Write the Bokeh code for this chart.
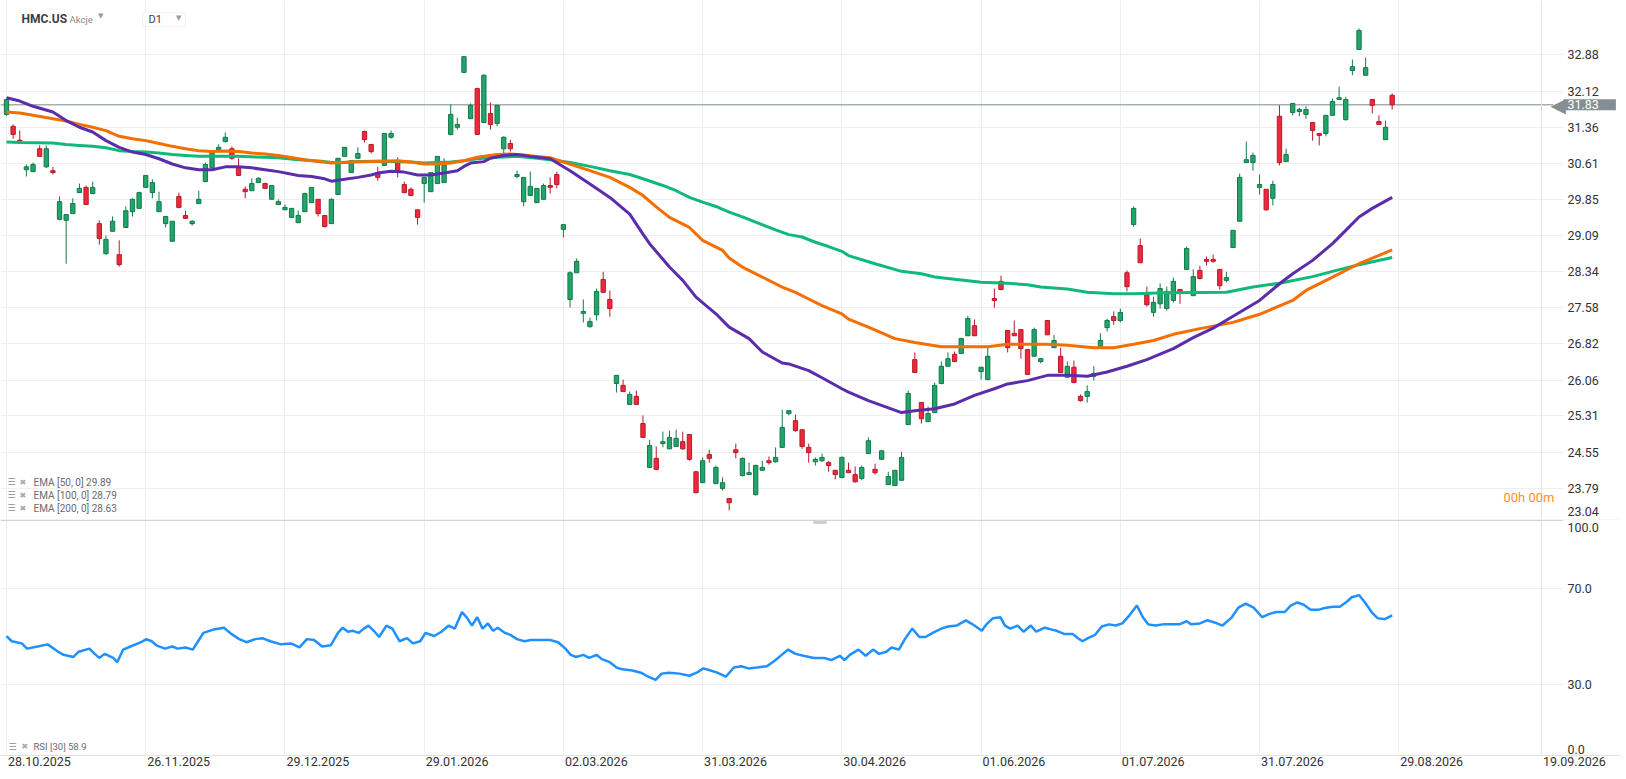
from bokeh.plotting import figure
from bokeh.models import (Range1d, FixedTicker, Label, Span, Grid, ColumnDataSource,
                          BoxAnnotation)
from bokeh.layouts import column
from bokeh.embed import file_html
from bokeh.resources import INLINE

FONT = "Roboto"

# ------------------------------------------------------------------ data
symbol = "HMC.US"
asset_class = "Akcje"
interval = "D1"

opens = [31.63, 31.38, 31.09, 30.47, 30.43, 30.91, 30.53, 30.45, 29.43, 29.41,
         29.55, 29.99, 30.10, 29.97, 29.34, 28.71, 29.18, 28.69, 29.26, 29.59,
         29.66, 30.10, 29.99, 29.59, 29.34, 28.97, 29.91, 29.51, 29.34, 29.76,
         30.22, 30.51, 30.89, 31.06, 30.91, 30.51, 30.06, 30.03, 30.20, 30.18,
         29.85, 29.74, 29.63, 29.47, 29.36, 29.59, 29.78, 29.85, 29.51, 29.34,
         29.95, 30.75, 30.41, 30.71, 31.27, 31.00, 30.41, 30.56, 31.15, 30.62,
         30.16, 30.06, 29.63, 30.18, 30.01, 30.18, 30.20, 31.21, 31.36, 32.51,
         31.54, 32.17, 31.46, 31.65, 31.44, 30.91, 31.02, 30.33, 29.80, 29.93,
         29.78, 29.85, 30.14, 30.37, 29.22, 27.75, 28.31, 27.46, 27.18, 27.43,
         28.17, 27.75, 25.99, 25.95, 25.55, 25.72, 25.15, 24.23, 24.42, 24.73,
         24.62, 24.67, 24.77, 24.92, 24.14, 23.91, 24.50, 23.89, 23.79, 23.58,
         24.60, 24.06, 24.08, 23.66, 24.17, 24.37, 24.35, 24.65, 25.36, 25.21,
         25.02, 24.65, 24.35, 24.37, 24.33, 24.17, 24.02, 24.17, 24.08, 24.00,
         24.52, 24.19, 24.40, 23.87, 23.85, 23.96, 25.13, 26.49, 25.59, 25.19,
         25.38, 25.99, 26.35, 26.60, 26.62, 26.99, 27.20, 26.24, 26.07, 27.77,
         28.13, 27.10, 27.04, 27.12, 26.70, 26.56, 26.45, 27.31, 26.74, 26.56,
         26.12, 26.33, 25.72, 25.72, 26.14, 26.74, 27.16, 27.39, 27.31, 28.31,
         29.32, 28.88, 27.85, 27.48, 27.66, 27.56, 27.73, 27.96, 28.38, 27.83,
         28.36, 28.59, 28.59, 28.38, 28.15, 28.84, 29.39, 30.62, 30.62, 30.10,
         30.06, 29.87, 31.59, 30.64, 31.67, 31.69, 31.63, 31.46, 31.23, 31.23,
         31.61, 31.94, 31.52, 32.55, 32.99, 32.45, 31.94, 31.48, 31.10, 32.03]
highs = [31.96, 31.42, 31.29, 30.58, 30.62, 30.98, 30.98, 30.53, 29.91, 29.53,
         29.87, 30.18, 30.14, 30.22, 29.41, 29.09, 29.49, 28.99, 29.70, 29.87,
         30.01, 30.35, 30.27, 30.01, 29.49, 29.39, 29.99, 29.61, 29.41, 30.03,
         30.62, 30.87, 31.00, 31.25, 30.96, 30.71, 30.12, 30.29, 30.31, 30.20,
         30.14, 29.85, 29.74, 29.66, 29.61, 29.99, 30.10, 29.85, 29.51, 29.87,
         30.71, 30.94, 30.66, 30.94, 31.29, 31.00, 30.53, 31.23, 31.29, 30.73,
         30.22, 30.10, 29.63, 30.31, 30.41, 30.75, 30.71, 31.84, 31.56, 32.84,
         31.86, 32.19, 32.47, 31.88, 31.82, 31.17, 31.10, 30.45, 30.31, 30.43,
         30.08, 30.18, 30.31, 30.43, 29.32, 28.34, 28.61, 27.75, 27.37, 27.98,
         28.33, 27.94, 26.16, 26.07, 25.82, 25.84, 25.32, 24.81, 24.67, 24.98,
         25.00, 25.02, 24.98, 24.92, 24.14, 24.44, 24.60, 24.27, 24.02, 23.58,
         24.73, 24.44, 24.33, 24.29, 24.37, 24.46, 24.65, 25.44, 25.42, 25.34,
         25.02, 24.73, 24.44, 24.52, 24.37, 24.17, 24.46, 24.33, 24.25, 24.27,
         24.86, 24.31, 24.58, 24.14, 24.17, 24.56, 25.84, 26.64, 25.59, 25.51,
         26.01, 26.45, 26.64, 26.66, 26.95, 27.41, 27.33, 26.33, 26.74, 27.98,
         28.25, 27.10, 27.31, 27.12, 26.70, 27.16, 26.51, 27.31, 27.01, 26.74,
         26.45, 26.47, 25.76, 25.95, 26.35, 27.04, 27.35, 27.50, 27.56, 28.36,
         29.70, 29.03, 28.02, 27.81, 28.09, 28.02, 28.21, 27.96, 28.86, 28.38,
         28.46, 28.65, 28.69, 28.38, 28.33, 29.20, 30.39, 31.06, 30.83, 30.37,
         30.06, 30.24, 31.82, 30.91, 31.86, 31.77, 31.80, 31.46, 31.23, 31.61,
         31.96, 32.21, 32.00, 32.78, 33.43, 32.82, 31.94, 31.61, 31.50, 32.07]
lows = [31.60, 31.12, 31.04, 30.33, 30.43, 30.75, 30.51, 30.37, 29.41, 28.50,
        29.55, 29.99, 29.74, 29.97, 28.90, 28.69, 29.18, 28.44, 29.26, 29.49,
        29.66, 30.10, 29.87, 29.59, 29.26, 28.97, 29.66, 29.45, 29.30, 29.76,
        30.22, 30.51, 30.83, 31.04, 30.68, 30.35, 29.87, 30.03, 30.20, 30.08,
        29.85, 29.74, 29.63, 29.47, 29.36, 29.59, 29.78, 29.49, 29.26, 29.34,
        29.95, 30.75, 30.41, 30.71, 31.04, 30.81, 30.24, 30.56, 31.12, 30.31,
        29.99, 29.93, 29.32, 29.78, 30.01, 30.18, 30.20, 31.19, 31.31, 32.51,
        31.54, 31.21, 31.46, 31.31, 31.38, 30.81, 30.85, 30.29, 29.70, 29.93,
        29.78, 29.85, 29.97, 30.08, 29.05, 27.58, 28.31, 27.27, 27.16, 27.31,
        27.90, 27.39, 25.80, 25.82, 25.55, 25.55, 24.86, 24.23, 24.17, 24.65,
        24.62, 24.67, 24.60, 24.37, 23.70, 23.91, 24.33, 23.89, 23.75, 23.33,
        24.42, 24.04, 24.08, 23.64, 24.17, 24.29, 24.33, 24.65, 25.32, 24.98,
        24.62, 24.33, 24.27, 24.35, 24.14, 23.98, 24.00, 24.12, 23.91, 23.96,
        24.52, 24.08, 24.40, 23.87, 23.85, 23.96, 25.13, 26.22, 25.15, 25.19,
        25.38, 25.97, 26.35, 26.45, 26.62, 26.99, 26.99, 26.07, 26.07, 27.58,
        27.94, 26.64, 26.99, 26.51, 26.18, 26.56, 26.41, 27.01, 26.74, 26.22,
        26.12, 25.99, 25.61, 25.59, 26.05, 26.74, 27.08, 27.22, 27.27, 27.92,
        29.28, 28.52, 27.60, 27.39, 27.56, 27.52, 27.69, 27.66, 28.38, 27.83,
        28.17, 28.46, 28.52, 27.96, 28.11, 28.84, 29.39, 30.62, 30.45, 29.95,
        29.61, 29.72, 30.56, 30.64, 31.61, 31.59, 31.54, 31.08, 30.98, 31.17,
        31.61, 31.94, 31.50, 32.45, 32.99, 32.45, 31.65, 31.42, 31.10, 31.73]
closes = [31.94, 31.21, 31.07, 30.53, 30.58, 30.75, 30.91, 30.41, 29.80, 29.53,
          29.76, 30.08, 29.74, 30.10, 29.03, 29.01, 29.39, 28.48, 29.61, 29.85,
          29.99, 30.35, 30.20, 29.80, 29.49, 29.39, 29.68, 29.45, 29.39, 29.85,
          30.58, 30.83, 30.94, 31.15, 30.71, 30.35, 30.01, 30.18, 30.29, 30.08,
          30.14, 29.80, 29.68, 29.66, 29.51, 29.97, 30.10, 29.55, 29.28, 29.85,
          30.71, 30.94, 30.66, 30.81, 31.10, 30.85, 30.31, 31.23, 31.23, 30.43,
          29.99, 29.93, 29.47, 30.31, 30.41, 30.75, 30.62, 31.63, 31.42, 32.84,
          31.82, 31.21, 32.45, 31.42, 31.82, 31.15, 30.91, 30.37, 30.31, 30.12,
          30.08, 30.14, 30.10, 30.16, 29.32, 28.31, 28.55, 27.50, 27.29, 27.92,
          27.90, 27.56, 26.16, 25.82, 25.76, 25.55, 24.86, 24.69, 24.19, 24.77,
          24.86, 24.84, 24.62, 24.40, 23.70, 24.37, 24.42, 24.23, 23.91, 23.49,
          24.54, 24.42, 24.12, 24.27, 24.23, 24.33, 24.44, 25.07, 25.42, 25.00,
          24.67, 24.54, 24.40, 24.44, 24.27, 24.08, 24.44, 24.12, 23.93, 24.23,
          24.79, 24.12, 24.58, 24.04, 24.17, 24.44, 25.78, 26.22, 25.25, 25.36,
          25.95, 26.35, 26.51, 26.45, 26.93, 27.35, 26.99, 26.33, 26.56, 27.73,
          27.96, 26.74, 26.99, 26.72, 26.18, 27.12, 26.51, 27.01, 26.89, 26.22,
          26.35, 26.01, 25.63, 25.82, 26.20, 26.89, 27.31, 27.31, 27.48, 28.02,
          29.66, 28.52, 27.64, 27.69, 27.98, 27.92, 28.13, 27.90, 28.82, 28.23,
          28.19, 28.55, 28.55, 28.04, 28.21, 29.20, 30.31, 30.68, 30.77, 30.16,
          29.63, 30.16, 30.62, 30.79, 31.86, 31.73, 31.73, 31.29, 31.19, 31.61,
          31.90, 31.98, 31.94, 32.63, 33.39, 32.61, 31.82, 31.42, 31.36, 31.83]

ema50_x = [0, 2, 4, 7, 9, 11, 13, 15, 17, 19, 21, 23, 25, 27, 29, 31, 33, 35, 37, 39,
           41, 44, 46, 48, 49, 51, 53, 55, 56, 58, 60, 62, 64, 66, 68, 69, 70, 72, 73, 75,
           77, 79, 82, 85, 88, 91, 94, 96, 97, 100, 102, 104, 107, 109, 112, 114, 117, 118, 121, 123,
           126, 127, 130, 135, 137, 140, 143, 146, 149, 151, 154, 157, 160, 163, 166, 169, 172, 176, 179, 182,
           185, 189, 192, 194, 197, 200, 202, 204, 206, 209]
ema50_y = [31.98, 31.91, 31.80, 31.68, 31.50, 31.36, 31.26, 31.08, 30.94, 30.84,
           30.79, 30.70, 30.59, 30.51, 30.47, 30.47, 30.53, 30.53, 30.51, 30.47,
           30.43, 30.35, 30.33, 30.28, 30.23, 30.27, 30.31, 30.36, 30.40, 30.44,
           30.42, 30.36, 30.36, 30.40, 30.45, 30.54, 30.61, 30.64, 30.71, 30.77,
           30.79, 30.75, 30.70, 30.45, 30.17, 29.89, 29.54, 29.12, 28.92, 28.43,
           28.15, 27.80, 27.45, 27.17, 26.93, 26.65, 26.42, 26.40, 26.26, 26.11,
           25.88, 25.81, 25.63, 25.38, 25.42, 25.46, 25.56, 25.74, 25.88, 25.98,
           26.05, 26.16, 26.16, 26.14, 26.23, 26.35, 26.49, 26.72, 26.95, 27.15,
           27.40, 27.73, 28.08, 28.29, 28.57, 28.92, 29.20, 29.48, 29.66, 29.89]

ema100_x = [0, 2, 4, 7, 9, 11, 13, 15, 17, 19, 21, 23, 25, 27, 29, 31, 33, 35, 37, 39,
            41, 45, 49, 52, 55, 59, 61, 63, 65, 67, 69, 71, 74, 76, 78, 80, 82, 88, 91, 94,
            96, 98, 100, 103, 105, 108, 109, 111, 114, 117, 119, 121, 123, 126, 127, 130, 134, 137, 141, 144,
            148, 151, 157, 160, 164, 167, 170, 173, 176, 180, 185, 189, 194, 196, 200, 204, 209]
ema100_y = [31.68, 31.66, 31.61, 31.54, 31.49, 31.42, 31.36, 31.29, 31.17, 31.12,
            31.08, 31.02, 30.96, 30.91, 30.87, 30.85, 30.86, 30.85, 30.82, 30.80,
            30.77, 30.68, 30.61, 30.63, 30.64, 30.66, 30.63, 30.59, 30.59, 30.61,
            30.66, 30.73, 30.79, 30.80, 30.78, 30.75, 30.72, 30.45, 30.31, 30.10,
            29.93, 29.69, 29.47, 29.26, 28.99, 28.78, 28.62, 28.43, 28.22, 28.01,
            27.90, 27.76, 27.62, 27.45, 27.34, 27.17, 26.93, 26.85, 26.76, 26.76,
            26.76, 26.81, 26.81, 26.79, 26.74, 26.74, 26.81, 26.89, 27.02, 27.14,
            27.27, 27.44, 27.73, 27.94, 28.22, 28.50, 28.79]

ema200_x = [0, 2, 7, 9, 11, 13, 15, 17, 19, 21, 23, 25, 27, 29, 35, 39, 41, 44, 48, 50,
            53, 56, 61, 63, 67, 69, 71, 74, 77, 80, 82, 85, 88, 91, 94, 96, 99, 101, 103, 105,
            107, 109, 111, 113, 116, 118, 120, 122, 124, 126, 127, 131, 135, 138, 140, 144, 147, 151, 154, 156,
            160, 163, 167, 170, 175, 184, 188, 192, 197, 200, 204, 209]
ema200_y = [31.05, 31.04, 31.03, 31.00, 30.98, 30.96, 30.93, 30.87, 30.85, 30.84,
            30.82, 30.79, 30.77, 30.75, 30.75, 30.73, 30.72, 30.68, 30.64, 30.61,
            30.64, 30.65, 30.63, 30.61, 30.63, 30.66, 30.70, 30.73, 30.75, 30.71,
            30.68, 30.62, 30.54, 30.45, 30.37, 30.28, 30.14, 30.03, 29.89, 29.79,
            29.70, 29.58, 29.48, 29.37, 29.21, 29.11, 29.06, 28.95, 28.86, 28.76,
            28.67, 28.50, 28.34, 28.29, 28.22, 28.16, 28.11, 28.09, 28.06, 28.01,
            27.97, 27.90, 27.87, 27.87, 27.89, 27.90, 28.01, 28.09, 28.23, 28.34,
            28.48, 28.63]

rsi_x = [0, 0.8, 2.3, 3.1, 4.7, 6.2, 7.8, 8.6, 10.1, 10.9,
         12.5, 13.3, 14.0, 14.8, 16.1, 16.7, 17.6, 18.7, 20.3, 21.1,
         21.9, 22.6, 23.9, 25.0, 25.8, 27.0, 28.1, 28.9, 29.7, 31.2,
         32.8, 33.9, 35.1, 36.2, 37.5, 38.6, 39.8, 41.4, 42.9, 44.2,
         45.3, 46.4, 47.6, 48.9, 50.0, 50.7, 51.5, 52.3, 53.1, 53.9,
         54.6, 55.4, 56.2, 57.3, 58.2, 59.3, 60.4, 61.3, 62.4, 63.2,
         64.5, 65.6, 66.7, 67.6, 68.7, 69.5, 70.2, 71.0, 71.8, 72.6,
         73.4, 74.1, 75.2, 76.0, 77.0, 78.1, 79.1, 80.4, 82.0, 83.2,
         84.3, 85.1, 85.9, 87.0, 87.9, 89.0, 89.8, 91.0, 92.0, 92.9,
         94.4, 95.7, 96.8, 97.9, 98.8, 99.9, 101.5, 103.0, 104.1, 105.1,
         106.2, 107.2, 108.5, 109.7, 110.8, 111.9, 113.2, 114.7, 116.0, 117.1,
         117.9, 119.0, 120.2, 121.8, 123.3, 124.4, 125.7, 126.4, 127.2, 128.5,
         129.6, 130.7, 131.6, 132.7, 133.5, 134.6, 135.5, 136.6, 137.7, 138.6,
         139.7, 141.0, 142.0, 143.3, 144.7, 146.0, 147.1, 147.8, 148.8, 149.9,
         150.6, 151.4, 152.5, 153.4, 154.5, 155.3, 156.6, 157.7, 158.4, 159.5,
         160.8, 161.6, 162.3, 163.1, 164.2, 165.2, 166.3, 167.3, 168.3, 169.4,
         170.5, 171.4, 172.2, 173.3, 174.4, 175.6, 176.9, 178.0, 178.7, 180.0,
         181.1, 182.2, 183.4, 184.7, 185.8, 186.9, 188.1, 189.4, 190.4, 191.5,
         192.8, 193.7, 194.7, 195.6, 196.7, 197.8, 199.0, 200.1, 201.1, 202.2,
         202.9, 204.0, 204.9, 206.0, 206.8, 207.9, 209.0]
rsi_y = [50.2, 48.0, 47.1, 44.9, 45.8, 46.7, 43.6, 42.3, 41.4, 43.6,
         44.9, 42.7, 41.0, 42.7, 41.0, 39.2, 44.5, 45.8, 47.6, 48.9,
         48.0, 46.3, 44.9, 45.8, 44.9, 45.4, 44.5, 48.0, 51.5, 52.9,
         53.7, 51.1, 48.9, 47.6, 48.9, 49.3, 48.0, 46.7, 47.1, 45.4,
         48.9, 48.5, 45.8, 46.3, 51.5, 53.7, 52.0, 52.4, 51.5, 53.3,
         54.6, 52.4, 49.8, 54.6, 53.3, 48.0, 49.3, 47.1, 48.0, 51.5,
         50.2, 52.0, 54.6, 53.3, 60.3, 57.7, 54.6, 58.1, 53.3, 55.5,
         52.4, 53.7, 51.5, 50.7, 48.9, 48.0, 48.5, 48.5, 48.5, 47.6,
         44.9, 42.3, 41.4, 42.3, 41.0, 42.3, 40.5, 39.2, 37.0, 36.2,
         35.7, 34.8, 33.1, 31.8, 34.4, 34.8, 34.4, 33.5, 34.8, 36.6,
         35.7, 34.8, 33.1, 37.0, 37.5, 36.6, 37.0, 37.5, 40.1, 42.7,
         44.5, 42.7, 41.9, 41.0, 41.0, 40.1, 41.9, 40.1, 42.3, 44.5,
         41.9, 44.5, 42.7, 43.6, 45.4, 44.5, 48.9, 53.3, 49.8, 49.8,
         51.5, 53.3, 54.2, 54.6, 56.8, 54.6, 52.4, 55.1, 57.7, 58.1,
         54.6, 53.3, 54.6, 52.0, 54.6, 52.0, 53.7, 52.9, 52.4, 51.1,
         51.1, 49.3, 48.0, 49.3, 50.7, 54.2, 55.1, 54.6, 55.5, 59.0,
         63.0, 58.1, 55.1, 54.6, 55.1, 55.1, 55.1, 56.4, 55.1, 55.5,
         56.8, 55.9, 54.6, 57.7, 62.1, 63.8, 62.1, 58.1, 59.4, 60.3,
         60.3, 63.0, 64.3, 63.4, 61.2, 61.2, 62.1, 62.5, 62.5, 64.7,
         66.5, 67.4, 64.3, 59.9, 57.7, 57.3, 58.9]

price_ticks = [23.79, 24.55, 25.31, 26.06, 26.82, 27.58, 28.34, 29.09, 29.85,
               30.61, 31.36, 32.12, 32.88]
price_bottom_tick = 23.04
rsi_ticks = [0, 30, 70, 100]
rsi_grid = [30, 70]
date_idx = [0, 21, 42, 63, 84, 105, 126, 147, 168, 189, 210]
date_labels = ["28.10.2025", "26.11.2025", "29.12.2025", "29.01.2026", "02.03.2026",
               "31.03.2026", "30.04.2026", "01.06.2026", "01.07.2026", "31.07.2026",
               "29.08.2026"]
future_label = "19.09.2026"
last_price = 31.83
ema_names = ["EMA [50, 0]", "EMA [100, 0]", "EMA [200, 0]"]
ema_last = [29.89, 28.79, 28.63]
rsi_name = "RSI [30]"
rsi_last = 58.9

# ------------------------------------------------------------ geometry
BAR = 6.63                      # px per bar


def X(px):                      # screen x pixel -> bar index
    return (px - 6) / BAR


def P(py):                      # screen y pixel -> price
    return 34.017 - py * 0.02096


def R(py):                      # screen y pixel -> RSI value
    return (755 - py) / 2.38


W = 1620
SPLIT = 519                     # boundary between price and RSI panels
H_TOTAL = 775
GRID = "#efefef"
TXT = "#333333"
GREEN, GREEN_E = "#22a46a", "#117a4a"
RED, RED_E = "#f0283c", "#b51b2b"
AX_X = 1567                     # left edge of the right-hand value labels
PANEL_RIGHT = 1541              # right border of the plotting panels
MASK_LEFT = 1563


def strip_grids(fig):
    fig.center = [c for c in fig.center if not isinstance(c, Grid)]


def lab(fig, x, y, text, size="12px", color=TXT, font=FONT, style="normal",
        baseline="middle", **kw):
    fig.add_layout(Label(x=x, y=y, text=text, text_font=font, text_font_size=size,
                         text_color=color, text_font_style=style, text_baseline=baseline,
                         text_align="left", **kw))


# ------------------------------------------------------------ price panel
p = figure(width=W, height=SPLIT, x_range=Range1d(X(0), X(W)),
           y_range=Range1d(P(SPLIT), P(0)),
           output_backend="svg", toolbar_location=None, x_axis_location=None,
           y_axis_location=None, min_border=0)
p.outline_line_color = None
strip_grids(p)
p.add_layout(Grid(dimension=0, ticker=FixedTicker(ticks=date_idx), grid_line_color=GRID))
p.add_layout(Grid(dimension=1, ticker=FixedTicker(ticks=price_ticks), grid_line_color=GRID))
p.add_layout(Span(location=X(PANEL_RIGHT), dimension="height", line_color="#e2e2e2",
                  line_width=1))
p.segment(x0=[X(0)], y0=[last_price], x1=[X(1553)], y1=[last_price],
          line_color="#7d878c", line_width=1)

idx = list(range(len(opens)))
up = [c >= o for o, c in zip(opens, closes)]
src = ColumnDataSource(dict(
    x=idx,
    top=[max(o, c) for o, c in zip(opens, closes)],
    bottom=[min(o, c) for o, c in zip(opens, closes)],
    high=highs, low=lows,
    fill=[GREEN if u else RED for u in up],
    edge=[GREEN_E if u else RED_E for u in up],
))
p.segment(x0="x", y0="high", x1="x", y1="low", source=src, line_color="edge", line_width=1)
p.vbar(x="x", width=0.65, top="top", bottom="bottom", source=src,
       fill_color="fill", line_color="edge", line_width=1)

p.line(ema200_x, ema200_y, line_color="#10b978", line_width=3)
p.line(ema100_x, ema100_y, line_color="#f56e00", line_width=3)
p.line(ema50_x, ema50_y, line_color="#5b2daa", line_width=3)

# value column on the right
p.add_layout(BoxAnnotation(left=X(MASK_LEFT), right=X(W + 10), fill_color="white",
                           fill_alpha=1.0, line_color=None))
for t in price_ticks:
    lab(p, X(AX_X), t, f"{t:.2f}", size="12.5px")
lab(p, X(AX_X), P(510.5), f"{price_bottom_tick:.2f}", size="12.5px")
lab(p, X(1550), last_price, "\u25C0", size="20px", color="#858e93", font="DejaVu Sans")
lab(p, X(1563), last_price, f"{last_price:.2f}", size="12.5px", color="white",
    background_fill_color="#858e93", padding=dict(left=4, right=17, top=1, bottom=1))

# header
lab(p, X(21), P(18), symbol, size="12px", color="#3a3f45", style="bold")
lab(p, X(69), P(19), asset_class, size="9.5px", color="#8a8a8a")
lab(p, X(97.5), P(15.5), "\u25BC", size="7px", color="#9a9a9a", font="DejaVu Sans")
p.add_layout(BoxAnnotation(left=X(142), right=X(185), top=P(12), bottom=P(26),
                           fill_color="white", fill_alpha=1.0, line_color="#d8d8d8",
                           line_width=1))
lab(p, X(148), P(19), interval, size="11px", color="#444444")
lab(p, X(175.5), P(17.5), "\u25BC", size="7px", color="#9a9a9a", font="DejaVu Sans")

# EMA legend
for k, (nm, v) in enumerate(zip(ema_names, ema_last)):
    yy = P(481.5 + k * 13)
    lab(p, X(7), yy, "\u2630", size="9px", color="#8c8c8c", font="DejaVu Sans")
    lab(p, X(19), yy, "\u2716", size="8px", color="#a8a8a8", font="DejaVu Sans")
    lab(p, X(33), yy, f"{nm} {v:.2f}", size="10px", color="#6b6b6b")

lab(p, X(1503), P(497), "00h 00m", size="13px", color="#f7931e")

# ------------------------------------------------------------ RSI panel
r = figure(width=W, height=H_TOTAL - SPLIT, x_range=p.x_range,
           y_range=Range1d(R(H_TOTAL), R(SPLIT)),
           output_backend="svg", toolbar_location=None, x_axis_location=None,
           y_axis_location=None, min_border=0)
r.outline_line_color = None
strip_grids(r)
r.add_layout(Grid(dimension=0, ticker=FixedTicker(ticks=date_idx), grid_line_color=GRID))
r.add_layout(Grid(dimension=1, ticker=FixedTicker(ticks=rsi_grid), grid_line_color=GRID))
r.add_layout(Span(location=X(PANEL_RIGHT), dimension="height", line_color="#e2e2e2",
                  line_width=1))
r.add_layout(Span(location=R(SPLIT + 0.8), dimension="width", line_color="#d4d4d4",
                  line_width=1.5))

r.line(rsi_x, rsi_y, line_color="#1e90ff", line_width=2.5)

# time axis strip
r.add_layout(BoxAnnotation(bottom=R(H_TOTAL + 5), top=R(755.5), fill_color="white",
                           fill_alpha=1.0, line_color=None))
r.add_layout(BoxAnnotation(left=X(MASK_LEFT), right=X(W + 10), fill_color="white",
                           fill_alpha=1.0, line_color=None))
r.add_layout(Span(location=R(755), dimension="width", line_color="#e2e2e2", line_width=1))
for d, s in zip(date_idx + [X(PANEL_RIGHT)], date_labels + [future_label]):
    lab(r, d + 0.22, R(761), s, size="12.5px")

# RSI value column
rsi_label_pos = {100: R(526.5), 70: 70, 30: 30, 0: R(748.5)}
for t in rsi_ticks:
    lab(r, X(AX_X), rsi_label_pos[t], f"{t:.1f}", size="12.5px")

lab(r, X(8), R(746), "\u2630", size="9px", color="#8c8c8c", font="DejaVu Sans")
lab(r, X(21), R(746), "\u2716", size="8px", color="#a8a8a8", font="DejaVu Sans")
lab(r, X(33), R(746), f"{rsi_name} {rsi_last:.1f}", size="9.5px", color="#6b6b6b")

# splitter handle
r.add_layout(BoxAnnotation(left=X(813), right=X(826), top=R(520.5), bottom=R(523.5),
                           fill_color="#cfcfcf", fill_alpha=1.0, line_color=None))

layout = column(p, r, spacing=0)
open("out.html", "w").write(file_html(layout, INLINE))
